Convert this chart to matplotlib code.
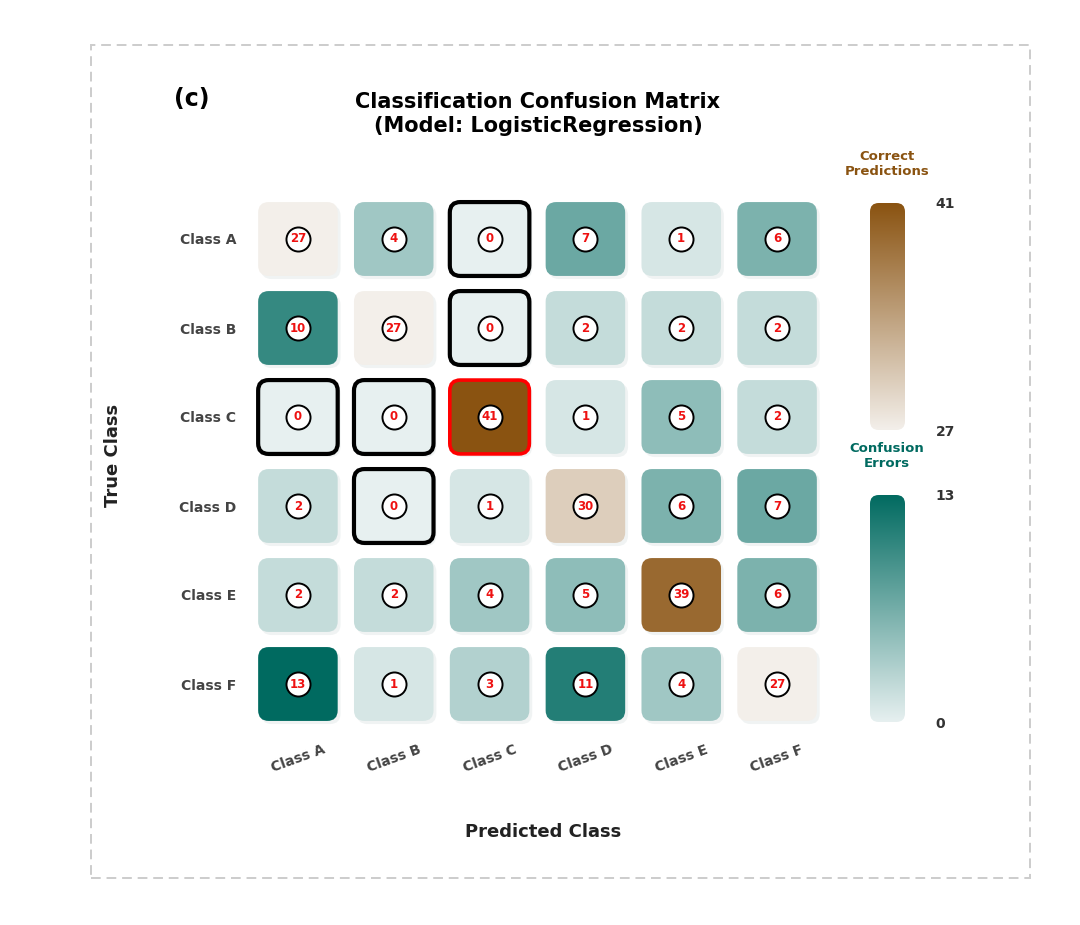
import numpy as np
import matplotlib
matplotlib.use("Agg")
import matplotlib.pyplot as plt
from matplotlib.colors import LinearSegmentedColormap
from matplotlib.patches import FancyBboxPatch, Circle, Rectangle

# ---------------- data ----------------
classes = ["Class A", "Class B", "Class C", "Class D", "Class E", "Class F"]
row_a = [27, 4, 0, 7, 1, 6]
row_b = [10, 27, 0, 2, 2, 2]
row_c = [0, 0, 41, 1, 5, 2]
row_d = [2, 0, 1, 30, 6, 7]
row_e = [2, 2, 4, 5, 39, 6]
row_f = [13, 1, 3, 11, 4, 27]
matrix = np.array([row_a, row_b, row_c, row_d, row_e, row_f])

title = "Classification Confusion Matrix\n(Model: LogisticRegression)"
panel_label = "(c)"
x_label = "Predicted Class"
y_label = "True Class"
cbar_correct_title = "Correct\nPredictions"
cbar_error_title = "Confusion\nErrors"

plt.rcParams['font.family'] = ['DejaVu Sans']
FONT = 'DejaVu Sans'

brown_cmap = LinearSegmentedColormap.from_list("brown", ["#f3efea", "#8a5311"])
teal_cmap = LinearSegmentedColormap.from_list("teal", ["#e7f0f0", "#006a60"])

diag = np.diag(matrix)
off = matrix[~np.eye(len(classes), dtype=bool)]
d_min, d_max = diag.min(), diag.max()
o_min, o_max = off.min(), off.max()

W, H = 1080, 925
fig = plt.figure(figsize=(W / 100, H / 100), dpi=100)
fig.patch.set_facecolor("white")

# dashed frame
fig.patches.append(Rectangle((91 / W, 1 - 878 / H), (1030 - 91) / W, (878 - 45) / H,
                             transform=fig.transFigure, fill=False, edgecolor="#cccccc",
                             lw=1.4, ls=(0, (5, 3))))

# main axes
ax_l, ax_r = 250 / W, 825 / W
ax_t, ax_b = 1 - 194.5 / H, 1 - 728.5 / H
ax = fig.add_axes([ax_l, ax_b, ax_r - ax_l, ax_t - ax_b])
n = len(classes)
ax.set_xlim(-0.5, n - 0.5)
ax.set_ylim(n - 0.5, -0.5)
for s in ax.spines.values():
    s.set_visible(False)

px_x = (ax_r - ax_l) * W / n
px_y = (ax_t - ax_b) * H / n
asp = px_x / px_y
cell = 0.83
rnd = 0.11

for i in range(n):
    for j in range(n):
        v = matrix[i, j]
        if i == j:
            col = brown_cmap((v - d_min) / (d_max - d_min))
        else:
            col = teal_cmap((v - o_min) / (o_max - o_min))
        # shadow
        sh = FancyBboxPatch((j - cell / 2 + 0.03, i - cell / 2 + 0.035), cell, cell,
                            boxstyle=f"round,pad=0,rounding_size={rnd}",
                            mutation_aspect=asp, facecolor="#dfe6e6", edgecolor="none",
                            alpha=0.45, zorder=1)
        ax.add_patch(sh)
        if v == 0:
            ec, lw = "black", 3.0
        elif v == matrix.max():
            ec, lw = "#ff0000", 2.6
        else:
            ec, lw = "none", 0
        p = FancyBboxPatch((j - cell / 2, i - cell / 2), cell, cell,
                           boxstyle=f"round,pad=0,rounding_size={rnd}",
                           mutation_aspect=asp, facecolor=col, edgecolor=ec, lw=lw, zorder=2)
        ax.add_patch(p)
        ax.scatter([j], [i], s=300, facecolor="white", edgecolor="black", lw=1.4, zorder=3)
        ax.text(j, i, str(v), ha="center", va="center", color="#ee1111",
                fontsize=8.5, fontweight="bold", family=FONT, zorder=4)

ax.set_xticks(range(n))
ax.set_yticks(range(n))
ax.set_xticklabels(classes, rotation=20, ha="center", fontsize=10, fontweight="bold",
                   color="#444444", family=FONT)
ax.set_yticklabels(classes, fontsize=10, fontweight="bold", color="#444444", family=FONT)
ax.tick_params(length=0)
ax.tick_params(axis="x", pad=10)
ax.tick_params(axis="y", pad=10)

# labels
fig.text(538 / W, 1 - 114 / H, title, ha="center", va="center", fontsize=15,
         fontweight="bold", family=FONT, linespacing=1.3)
fig.text(192 / W, 1 - 99 / H, panel_label, ha="center", va="center", fontsize=17,
         fontweight="bold", family=FONT)
fig.text(543 / W, 1 - 832 / H, x_label, ha="center", va="center", fontsize=13,
         fontweight="bold", family=FONT, color="#222222")
fig.text(113 / W, 1 - 455 / H, y_label, ha="center", va="center", fontsize=13,
         fontweight="bold", family=FONT, rotation=90, color="#222222")


def gradient_bar(y_top, y_bot, cmap, vmin, vmax, title_txt, title_col, title_y):
    x0, x1 = 870, 905
    cax = fig.add_axes([x0 / W, 1 - y_bot / H, (x1 - x0) / W, (y_bot - y_top) / H])
    cax.set_xlim(0, 1)
    cax.set_ylim(vmin, vmax)
    vals = np.linspace(vmin, vmax, 256).reshape(-1, 1)
    im = cax.imshow(vals, cmap=cmap, origin="lower", aspect="auto",
                    extent=[0, 1, vmin, vmax], vmin=vmin, vmax=vmax)
    clip = FancyBboxPatch((0, 0), 1, 1, boxstyle="round,pad=0,rounding_size=0.25",
                          mutation_aspect=(x1 - x0) / (y_bot - y_top),
                          transform=cax.transAxes, facecolor="none", edgecolor="none")
    cax.add_patch(clip)
    im.set_clip_path(clip)
    for s in cax.spines.values():
        s.set_visible(False)
    cax.set_xticks([])
    cax.yaxis.tick_right()
    cax.set_yticks([vmin, vmax])
    cax.set_yticklabels([str(vmin), str(vmax)], fontsize=10, fontweight="bold",
                        color="#333333", family=FONT)
    cax.tick_params(length=0, pad=22)
    fig.text(887 / W, 1 - title_y / H, title_txt, ha="center", va="center", fontsize=9.5,
             fontweight="bold", color=title_col, family=FONT, linespacing=1.2)


gradient_bar(203, 430, brown_cmap, int(d_min), int(d_max), cbar_correct_title, "#8a5311", 164)
gradient_bar(495, 722, teal_cmap, int(o_min), int(o_max), cbar_error_title, "#006a60", 456)

fig.savefig("out.png", dpi=100, facecolor="white")
